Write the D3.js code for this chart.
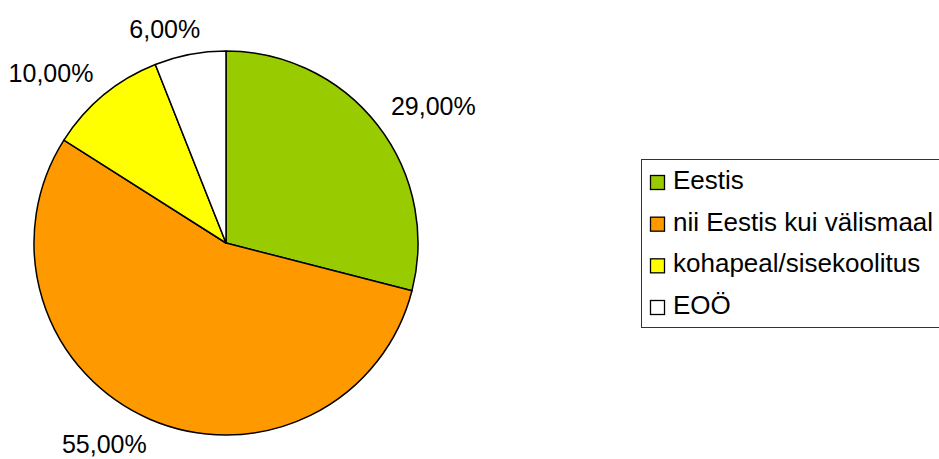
<!DOCTYPE html>
<html>
<head>
<meta charset="utf-8">
<script src="https://cdn.jsdelivr.net/npm/d3@7"></script>
<style>
  body { margin: 0; background: #ffffff; }
  svg { display: block; font-family: "Liberation Sans", Arial, sans-serif; }
</style>
</head>
<body>
<div id="chart"></div>
<script>
// chart data
var categories = ["Eestis", "nii Eestis kui välismaal", "kohapeal/sisekoolitus", "EOÖ"];
var values = [29, 55, 10, 6];
var labels = ["29,00%", "55,00%", "10,00%", "6,00%"];
var colors = ["#99cc00", "#ff9900", "#ffff00", "#ffffff"];

var width = 939;
var height = 459;
var radius = 192;
var cx = 226, cy = 243;
var labelFont = 25;
var legendFont = 26;

var svg = d3.select("#chart").append("svg")
    .attr("width", width)
    .attr("height", height);

var pieData = d3.pie()
    .sort(null)
    .value(function(d) { return d; })(values);

var arc = d3.arc()
    .innerRadius(0)
    .outerRadius(radius);

var g = svg.append("g")
    .attr("transform", "translate(" + cx + "," + cy + ")");

g.selectAll("path.slice")
    .data(pieData)
    .enter()
    .append("path")
    .attr("class", "slice")
    .attr("d", arc)
    .attr("fill", function(d, i) { return colors[i]; })
    .attr("stroke", "#000000")
    .attr("stroke-width", 1.5)
    .attr("stroke-linejoin", "round");

// value labels: the box corner nearest the pie sits on a point just outside the slice
var labelR = radius + 17;
var capH = 18;
var k = 3.9;
g.selectAll("text.lbl")
    .data(pieData)
    .enter()
    .append("text")
    .attr("class", "lbl")
    .attr("font-size", labelFont)
    .attr("fill", "#000000")
    .text(function(d, i) { return labels[i]; })
    .each(function(d) {
        var w = this.getComputedTextLength();
        var a = (d.startAngle + d.endAngle) / 2;
        var s = Math.sin(a), c = Math.cos(a);
        var px = s * labelR, py = -c * labelR;
        var fl = 0.5 - 0.5 * Math.tanh(s * k);   // share of width left of point
        var fa = 0.5 + 0.5 * Math.tanh(c * k);   // share of height above point
        d3.select(this)
            .attr("x", px - fl * w)
            .attr("y", py + (1 - fa) * capH);
    });

// legend
var legend = svg.append("g")
    .attr("transform", "translate(641,159)");

legend.append("rect")
    .attr("x", 0.5)
    .attr("y", 0.5)
    .attr("width", 340)
    .attr("height", 168)
    .attr("fill", "#ffffff")
    .attr("stroke", "#333333")
    .attr("stroke-width", 1);

var rowY = d3.scalePoint()
    .domain(categories)
    .range([30, 155]);

var rows = legend.selectAll("g.row")
    .data(categories)
    .enter()
    .append("g")
    .attr("class", "row")
    .attr("transform", function(d) { return "translate(0," + rowY(d) + ")"; });

rows.append("rect")
    .attr("x", 9.5)
    .attr("y", -13.5)
    .attr("width", 14)
    .attr("height", 14)
    .attr("fill", function(d, i) { return colors[i]; })
    .attr("stroke", "#000000")
    .attr("stroke-width", 1.3);

rows.append("text")
    .attr("x", 32)
    .attr("y", 0)
    .attr("font-size", legendFont)
    .attr("fill", "#000000")
    .text(function(d) { return d; });
</script>
</body>
</html>
